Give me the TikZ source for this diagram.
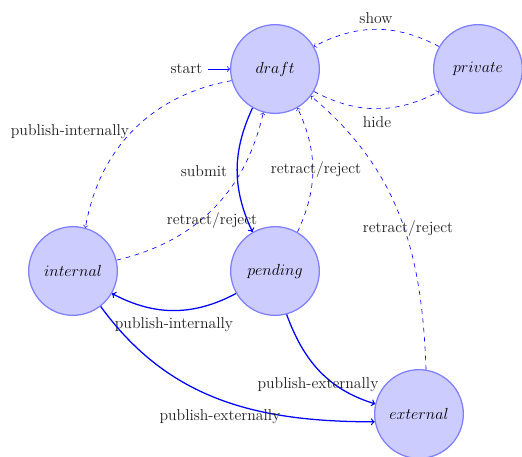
\documentclass[tikz,border=0pt]{standalone}
\begin{document}
\begin{tikzpicture}[x=0.75pt,y=-0.75pt,
  state/.style={circle, draw=blue!50, fill=blue!20, line width=0.95pt, minimum size=66.5pt, inner sep=0pt, font=\fontsize{11.8}{14}\selectfont},
  lbl/.style={font=\fontsize{11.8}{14}\selectfont, inner sep=1pt, text=black!88},
  solidedge/.style={->, draw=blue, line width=0.95pt},
  dashedge/.style={->, draw=blue, line width=0.47pt, dash pattern=on 3.5pt off 3.5pt},
  startedge/.style={->, draw=blue, line width=0.6pt},
]
\useasboundingbox (0,0) rectangle (522,457);
\node[state] (draft) at (275,69) {$draft$};
\node[state] (private) at (478,69) {$private$};
\node[state] (internal) at (73,271) {$internal$};
\node[state] (pending) at (275,271) {$pending$};
\node[state] (external) at (419,414) {$external$};
\node[lbl, inner sep=4pt] (start) at (186.5,69) {start};

\draw[startedge] (start) -- (draft);
\draw[dashedge] (draft.330) to[bend right=28] (private.210) node[lbl] at (377,122) {hide};
\draw[dashedge] (private.150) to[bend right=28] (draft.30) node[lbl] at (376,18) {show};
\draw[dashedge] (draft.195) to[bend right=35] (internal.74) node[lbl] at (70,132) {publish-internally};
\draw[solidedge] (draft.240) to[bend right=25] (pending.120) node[lbl] at (204,171) {submit};
\draw[dashedge] (pending.60) to[bend right=25] (draft.300) node[lbl] at (316,170) {retract/reject};
\draw[dashedge] (internal.14) to[bend right=32] (draft.255) node[lbl] at (212,221) {retract/reject};
\draw[solidedge] (pending.210) to[bend left=28] (internal.330) node[lbl] at (174,325) {publish-internally};
\draw[solidedge] (pending.285) to[out=-70,in=163] (external.167) node[lbl] at (318,385) {publish-externally};
\draw[solidedge] (internal.308) to[out=-54,in=180] (external.190) node[lbl] at (220,417) {publish-externally};
\draw[dashedge] (external.81) to[out=92,in=-40] (draft.323) node[lbl] at (408,229) {retract/reject};
\end{tikzpicture}
\end{document}
